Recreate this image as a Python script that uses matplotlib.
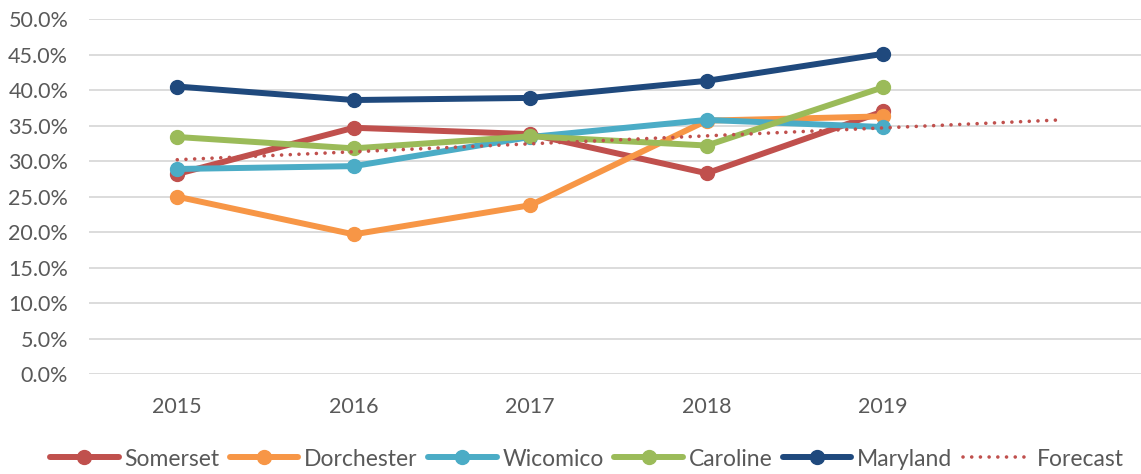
import matplotlib.pyplot as plt
from matplotlib.ticker import FuncFormatter

years = [2015, 2016, 2017, 2018, 2019]
somerset = [28.2, 34.7, 33.8, 28.3, 37.0]
dorchester = [25.0, 19.7, 23.8, 35.7, 36.3]
wicomico = [28.9, 29.3, 33.4, 35.8, 34.8]
caroline = [33.4, 31.8, 33.5, 32.2, 40.4]
maryland = [40.5, 38.6, 38.9, 41.3, 45.1]
forecast_years = [2015, 2020]
forecast_vals = [30.2, 35.8]

series = [
    ('Somerset', somerset, '#C0504D'),
    ('Dorchester', dorchester, '#F79646'),
    ('Wicomico', wicomico, '#4BACC6'),
    ('Caroline', caroline, '#9BBB59'),
    ('Maryland', maryland, '#1F497D'),
]

plt.rcParams['font.family'] = ['Lato', 'DejaVu Sans']
text_color = '#595959'

fig = plt.figure(figsize=(11.41, 4.74), dpi=100)
ax = fig.add_axes([89 / 1141, 99.6 / 474, 1059 / 1141, 355.4 / 474])

for i, (name, vals, col) in enumerate(series):
    ax.plot(years, vals, color=col, lw=4.3, marker='o', ms=10,
            solid_capstyle='round', label=name, zorder=3 + i)
ax.plot(forecast_years, forecast_vals, color='#C0504D', lw=2.6,
        linestyle=(0, (0.01, 2.4)), dash_capstyle='round', label='Forecast', zorder=10)

ax.set_xlim(2014.5, 2020.5)
ax.set_ylim(0, 50)
ax.set_yticks(range(0, 51, 5))
ax.yaxis.set_major_formatter(FuncFormatter(lambda v, p: f'{v:.1f}%'))
ax.set_xticks(years)
ax.set_xticklabels([str(y) for y in years])
ax.grid(axis='y', color='#D9D9D9', lw=1.3)
ax.set_axisbelow(True)
for s in ax.spines.values():
    s.set_visible(False)
ax.tick_params(axis='both', length=0, labelsize=15.5, colors=text_color)
ax.tick_params(axis='y', pad=15)
ax.tick_params(axis='x', pad=16)

leg = fig.legend(loc='center', bbox_to_anchor=(587 / 1141, 1 - 459 / 474), ncol=6,
                 frameon=False, fontsize=16.5, handlelength=3.0, columnspacing=0.45,
                 handletextpad=0.25, labelcolor=text_color)

fig.savefig('out.png', dpi=100)
